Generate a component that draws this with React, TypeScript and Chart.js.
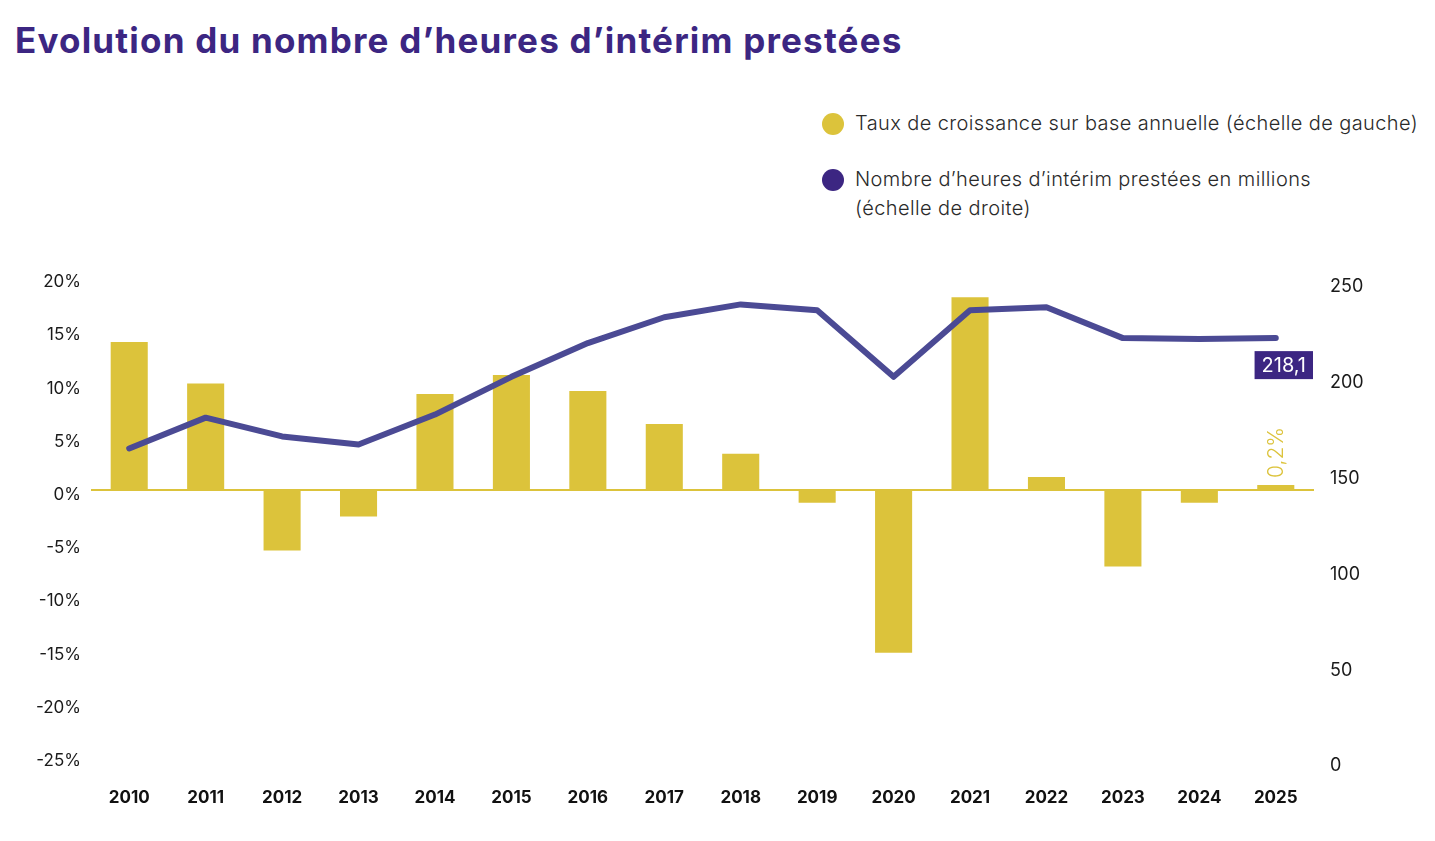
import { useEffect, useRef } from 'react';
import { Chart, registerables } from 'chart.js';

Chart.register(...registerables);

const years = ['2010', '2011', '2012', '2013', '2014', '2015', '2016', '2017', '2018', '2019', '2020', '2021', '2022', '2023', '2024', '2025'];
// yearly growth, % (left scale)
const growthRates = [13.9, 10.0, -5.7, -2.5, 9.0, 10.8, 9.3, 6.2, 3.4, -1.2, -15.3, 18.1, 1.2, -7.2, -1.2, 0.2];
// hours worked, millions (right scale)
const hoursMillions = [160.5, 176.6, 166.8, 162.6, 178.2, 197.9, 215.5, 229.0, 235.7, 232.6, 197.9, 232.6, 234.2, 218.1, 217.6, 218.1];
const leftTicks = [20, 15, 10, 5, 0, -5, -10, -15, -20, -25];
const rightTicks = [250, 200, 150, 100, 50, 0];

const YELLOW = '#dcc33b';
const LINE = '#4b4a94';
const PURPLE = '#3c2682';
const FONT = 'Inter, "Noto Sans", sans-serif';

const fmt = (v: number) => v.toFixed(1).replace('.', ',');

const labelsPlugin = {
  id: 'endLabels',
  afterDatasetsDraw(chart: Chart) {
    const ctx = chart.ctx;
    const last = years.length - 1;

    // line value box
    const pt = chart.getDatasetMeta(1).data[last];
    if (pt) {
      const text = fmt(hoursMillions[last]);
      ctx.save();
      ctx.font = `400 20px ${FONT}`;
      const w = ctx.measureText(text).width + 14;
      const cx = pt.x + 8;
      const cy = pt.y + 27;
      ctx.fillStyle = PURPLE;
      ctx.fillRect(cx - w / 2, cy - 14, w, 28);
      ctx.fillStyle = '#ffffff';
      ctx.textAlign = 'center';
      ctx.textBaseline = 'middle';
      ctx.fillText(text, cx, cy + 1);
      ctx.restore();
    }

    // bar value, rotated
    const bar = chart.getDatasetMeta(0).data[last];
    if (bar) {
      ctx.save();
      ctx.translate(bar.x + 1, bar.y - 7);
      ctx.rotate(-Math.PI / 2);
      ctx.font = `300 21px ${FONT}`;
      ctx.fillStyle = YELLOW;
      ctx.textAlign = 'left';
      ctx.textBaseline = 'middle';
      ctx.fillText(fmt(growthRates[last]) + '%', 0, 0);
      ctx.restore();
    }
  },
};

function InterimChart() {
  const canvasRef = useRef<HTMLCanvasElement>(null);

  useEffect(() => {
    if (!canvasRef.current) return;
    const chart = new Chart(canvasRef.current, {
      type: 'bar',
      data: {
        labels: years,
        datasets: [
          {
            type: 'bar',
            data: growthRates,
            backgroundColor: YELLOW,
            barPercentage: 0.485,
            categoryPercentage: 1,
            minBarLength: 5,
            yAxisID: 'y',
            order: 1,
          },
          {
            type: 'line',
            data: hoursMillions,
            borderColor: LINE,
            borderWidth: 6,
            pointRadius: 0,
            borderCapStyle: 'round',
            borderJoinStyle: 'round',
            tension: 0,
            yAxisID: 'y1',
            order: 0,
          } as any,
        ],
      },
      options: {
        responsive: false,
        animation: false,
        layout: { padding: { top: 37, left: 0, right: 0, bottom: 0 } },
        plugins: {
          legend: { display: false },
          tooltip: { enabled: false },
        },
        scales: {
          x: {
            offset: true,
            grid: { display: false, drawTicks: false },
            border: { display: false },
            ticks: {
              color: '#111',
              padding: 32,
              font: { family: FONT, size: 17, weight: 'bold' },
            },
            afterFit: (s: any) => {
              s.height = 84;
            },
          },
          y: {
            position: 'left',
            min: -25,
            max: 20,
            afterBuildTicks: (s: any) => {
              s.ticks = leftTicks.map((value) => ({ value }));
            },
            grid: {
              drawTicks: false,
              lineWidth: 2,
              color: (c: any) => (c.tick && c.tick.value === 0 ? YELLOW : 'transparent'),
            },
            border: { display: false },
            ticks: {
              color: '#1a1a1a',
              padding: 10,
              labelOffset: 5,
              font: { family: FONT, size: 17 },
              callback: (v: any) => v + '%',
            },
            afterFit: (s: any) => {
              s.width = 91;
            },
          },
          y1: {
            position: 'right',
            min: 0,
            max: 250,
            afterBuildTicks: (s: any) => {
              s.ticks = rightTicks.map((value) => ({ value }));
            },
            grid: { display: false, drawTicks: false },
            border: { display: false },
            ticks: {
              color: '#1a1a1a',
              padding: 16,
              labelOffset: 10,
              font: { family: FONT, size: 18 },
            },
            afterFit: (s: any) => {
              s.width = 121;
            },
          },
        },
      },
      plugins: [labelsPlugin],
    });
    return () => chart.destroy();
  }, []);

  return <canvas ref={canvasRef} width={1435} height={600} style={{ position: 'absolute', left: 0, top: 240 }} />;
}

function LegendItem({ color, lines, top }: { color: string; lines: string[]; top: number }) {
  return (
    <div style={{ position: 'absolute', left: 822, top }}>
      <div
        style={{
          position: 'absolute',
          left: 0,
          top: 1,
          width: 22,
          height: 22,
          borderRadius: '50%',
          background: color,
        }}
      />
      <div
        style={{
          position: 'absolute',
          left: 33,
          top: 0,
          whiteSpace: 'nowrap',
          fontFamily: FONT,
          fontWeight: 300,
          fontSize: 20,
          letterSpacing: 0.4,
          lineHeight: '29px',
          color: '#2a2a2a',
          marginTop: -3,
        }}
      >
        {lines.map((l) => (
          <div key={l}>{l}</div>
        ))}
      </div>
    </div>
  );
}

export default function App() {
  return (
    <div
      style={{
        position: 'relative',
        margin: -8,
        width: 1435,
        height: 841,
        overflow: 'hidden',
        background: '#ffffff',
      }}
    >
      <div
        style={{
          position: 'absolute',
          left: 15,
          top: 16,
          fontFamily: FONT,
          fontWeight: 700,
          fontSize: 35,
          letterSpacing: 1.2,
          color: PURPLE,
          whiteSpace: 'nowrap',
          lineHeight: '48px',
        }}
      >
        Evolution du nombre d’heures d’intérim prestées
      </div>
      <LegendItem color={YELLOW} lines={['Taux de croissance sur base annuelle (échelle de gauche)']} top={112} />
      <LegendItem
        color={PURPLE}
        lines={['Nombre d’heures d’intérim prestées en millions', '(échelle de droite)']}
        top={168}
      />
      <InterimChart />
    </div>
  );
}
